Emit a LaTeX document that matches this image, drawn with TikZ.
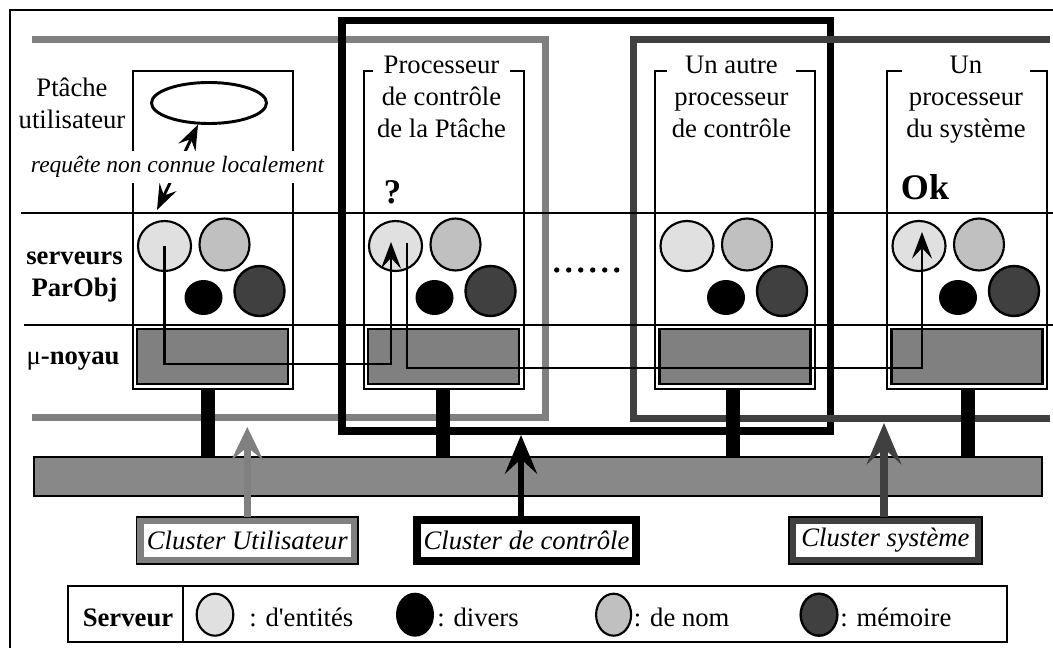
\documentclass[tikz,border=0pt]{standalone}
\usepackage{fontspec}
\setmainfont{Liberation Serif}
\usetikzlibrary{arrows.meta,shapes.geometric}
\definecolor{cuser}{HTML}{808080}
\definecolor{csys}{HTML}{404040}
\definecolor{sent}{HTML}{E0E0E0}
\definecolor{snom}{HTML}{C0C0C0}
\definecolor{smem}{HTML}{404040}
\definecolor{knl}{HTML}{808080}
\definecolor{busg}{HTML}{888888}
% centred multi-line text whose baseline is that of its first line
\newcommand{\tstack}[1]{\begin{tabular}[t]{@{}c@{}}#1\end{tabular}}
\begin{document}
\begin{tikzpicture}[x=0.75pt,y=-0.75pt,
  font=\fontsize{20}{24}\selectfont,
  pbox/.style={draw,line width=1.5pt,minimum width=120pt,minimum height=238.5pt,inner sep=0pt},
  ptitle/.style={fill=white,inner xsep=3.4pt,inner ysep=0pt,anchor=base},
  knlbox/.style={draw,line width=1.9pt,fill=knl},
  ent/.style={ellipse,draw,line width=1.6pt,fill=sent,inner sep=0pt,minimum width=39.75pt,minimum height=37.5pt},
  nom/.style={ellipse,draw,line width=1.6pt,fill=snom,inner sep=0pt,minimum width=37.5pt,minimum height=39pt},
  mem/.style={ellipse,draw,line width=1.8pt,fill=smem,inner sep=0pt,minimum width=37.5pt,minimum height=37.5pt},
  dvs/.style={ellipse,fill=black,inner sep=0pt,minimum width=28.5pt,minimum height=26.25pt},
  thinline/.style={line width=1.5pt},
  route/.style={line width=2pt,-{Stealth[length=20pt,width=15pt,inset=8pt]}},
  conn/.style={line width=10.5pt},
  clab/.style={draw,line width=5.25pt,fill=white,inner sep=0pt,minimum height=30pt,
    font=\fontsize{20}{24}\selectfont\itshape},
  side/.style={anchor=base,inner sep=0pt,font=\fontsize{20}{23.3}\selectfont},
  legtxt/.style={anchor=base west,inner sep=0pt}]

\useasboundingbox (0,0) rectangle (1053,648);
\clip (0,0) rectangle (1053,648);

% outer frame
\draw[line width=1.6pt] (10,10) rectangle (1080,680);

% cluster outlines
\draw[cuser,line width=5.25pt] (32,39.5) -- (545.5,39.5) -- (545.5,418) -- (32,418);
\draw[black,line width=5.5pt] (342,20.3) rectangle (830.5,431);
\draw[csys,line width=5.25pt] (1050,39.5) -- (633.3,39.5) -- (633.3,418.5) -- (1050,418.5);

% layer separators
\draw[thinline] (21,213) -- (1060,213);
\draw[thinline] (24,325) -- (1060,325);

% processors
\node[pbox] (p1) at (212.5,230) {};
\node[pbox] (p2) at (443.5,230) {};
\node[pbox] (p3) at (735,230) {};
\node[pbox] (p4) at (967,230) {};
\node[ptitle] (t2) at (441.5,74) {\tstack{Processeur\\de contrôle\\de la Ptâche}};
\node[ptitle] (t3) at (731.5,74) {\tstack{Un autre\\processeur\\de contrôle}};
\node[ptitle] (t4) at (966,74) {\tstack{Un\\processeur\\du système}};

% micro-kernels
\draw[knlbox] (137,329) rectangle (288,384);
\draw[knlbox] (368,329) rectangle (519,384);
\draw[knlbox] (659.5,329) rectangle (810.5,384);
\draw[knlbox] (891.5,329) rectangle (1042.5,384);

% ParObj servers
\node[ent] (e1) at (164.5,246) {};
\node[nom] (n1) at (224.5,244.5) {};
\node[dvs] (d1) at (203.5,297.5) {};
\node[mem] (m1) at (259.5,291) {};
\node[ent] (e2) at (395.5,246) {};
\node[nom] (n2) at (455.5,244.5) {};
\node[dvs] (d2) at (434.5,297.5) {};
\node[mem] (m2) at (490.5,291) {};
\node[ent] (e3) at (687,246) {};
\node[nom] (n3) at (747,244.5) {};
\node[dvs] (d3) at (726,297.5) {};
\node[mem] (m3) at (782,291) {};
\node[ent] (e4) at (919,246) {};
\node[nom] (n4) at (979,244.5) {};
\node[dvs] (d4) at (958,297.5) {};
\node[mem] (m4) at (1014,291) {};

% ellipsis between processors
\foreach \k in {0,...,5} \fill (556.7+12*\k,270) circle (2pt);

% row labels
\node[side] (ptache) at (72,97) {\tstack{Ptâche\\utilisateur}};
\node[side] (srv) at (74.5,265) {\bfseries\tstack{serveurs\\ParObj}};
\node[side] (noy) at (73,365) {μ\textbf{-noyau}};

% user task and its request
\node[ellipse,draw,line width=2.2pt,inner sep=0pt,minimum width=86.25pt,minimum height=30.75pt] (tache) at (209,103) {};
\coordinate (q1) at (157,210);
\draw[line width=2.2pt,{Stealth[length=19pt,width=14pt,inset=7pt]}-{Stealth[length=19pt,width=14pt,inset=7pt]}]
  (q1) -- node[fill=white,inner xsep=1pt,inner ysep=4pt,font=\fontsize{17.6}{21}\selectfont\itshape] (req) {requête non connue localement} (tache.243);

% answers
\node[anchor=base,inner sep=0pt,font=\fontsize{26}{30}\selectfont\bfseries] (qm) at (392.5,204) {?};
\node[anchor=base,inner sep=0pt,font=\fontsize{27}{30}\selectfont\bfseries] (ok) at (925,200) {Ok};

% request routes through the kernels
\coordinate (r1) at (391,364);
\coordinate (a1) at (391,242);
\draw[route] (e1.center) -- (e1.center |- r1) -- (r1) -- (a1);
\coordinate (s2) at (407,243);
\coordinate (r2) at (922,368);
\coordinate (a2) at (922,232);
\draw[route] (s2) -- (s2 |- r2) -- (r2) -- (a2);

% network bus and links
\node[draw,line width=1.5pt,fill=busg,inner sep=0pt,minimum width=756pt,minimum height=29.25pt] (bus) at (538.35,476.1) {};
\draw[conn] ([xshift=-3.75pt]p1.south) -- ([xshift=-3.75pt]p1.south |- bus.north);
\draw[conn] ([xshift=-0.75pt]p2.south) -- ([xshift=-0.75pt]p2.south |- bus.north);
\draw[conn] ([xshift=-1.5pt]p3.south) -- ([xshift=-1.5pt]p3.south |- bus.north);
\draw[conn] ([xshift=1.1pt]p4.south) -- ([xshift=1.1pt]p4.south |- bus.north);

% cluster captions
\node[clab,draw=cuser,minimum width=160.8pt] (lu) at (247.3,540.5) {Cluster Utilisateur};
\node[clab,draw=black,minimum width=163.5pt] (lc) at (526.5,540.5) {Cluster de contrôle};
\node[clab,draw=csys,minimum width=139.5pt] (ls) at (885.5,540.5) {Cluster système};
\foreach \n in {lu,lc,ls} \draw[line width=1.1pt] (\n.south west) rectangle (\n.north east);
\coordinate (tu) at (247.3,427);
\coordinate (tc) at (521,435);
\coordinate (ts) at (884,423);
\draw[cuser,line width=5.25pt,-{Stealth[length=25pt,width=24pt,inset=10pt]}] (lu.north) -- (tu);
\draw[black,line width=4.5pt,-{Stealth[length=29pt,width=24pt,inset=11pt]}] (lc.north -| tc) -- (tc);
\draw[csys,line width=6pt,-{Stealth[length=31pt,width=26pt,inset=12pt]}] (ls.north -| ts) -- (ts);

% legend
\draw[line width=1.6pt] (68,586) rectangle (1007,642);
\draw[line width=1.6pt] (183,586) -- (183,642);
\node[anchor=base,inner sep=0pt,font=\fontsize{20}{24}\selectfont\bfseries] (lgs) at (128,626) {Serveur};
\node[ent,minimum width=27.5pt,minimum height=31.5pt] (lg1) at (215,614.7) {};
\node[legtxt] (lt1) at (249,626) {: d\textquotesingle entités};
\node[dvs,minimum width=28.5pt,minimum height=33pt] (lg2) at (415,614.7) {};
\node[legtxt] (lt2) at (437,626) {: divers};
\node[nom,minimum width=26.25pt,minimum height=31.5pt] (lg3) at (613.6,614.7) {};
\node[legtxt] (lt3) at (633.6,626) {: de nom};
\node[mem,minimum width=27.5pt,minimum height=31.5pt] (lg4) at (819,614.7) {};
\node[legtxt] (lt4) at (840,626) {: mémoire};
\end{tikzpicture}
\end{document}
